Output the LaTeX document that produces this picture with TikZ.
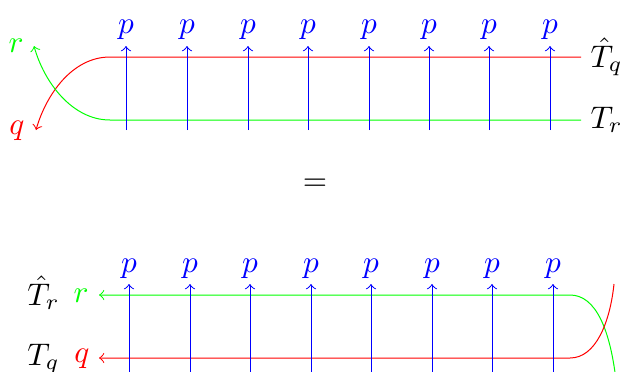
\documentclass[tikz,border=0pt]{standalone}
\begin{document}
\begin{tikzpicture}[x=0.32pt,y=-0.32pt,line width=0.32pt,
  lbl/.style={inner sep=0pt,anchor=base},
  lblw/.style={inner sep=0pt,anchor=base west},
  parr/.style={blue,->},
  rline/.style={red},
  gline/.style={green}]
\clip (0,0) rectangle (623,371);
% ---------- top ----------
\foreach \i/\x in {1/126,2/187,3/248,4/308,5/369,6/429,7/489,8/550}{
  \coordinate (tb\i) at (\x,130);
  \coordinate (tt\i) at (\x,46);
  \node[lbl,text=blue] (tp\i) at (\x,33) {$p$};
}
\coordinate (tr1) at (581,57);
\coordinate (tr2) at (110,57);
\coordinate (tr3) at (36,130);
\coordinate (tg1) at (581,120);
\coordinate (tg2) at (110,120);
\coordinate (tg3) at (34,46);
\draw[rline,->] (tr1) -- (tr2) .. controls (72,57) and (46,95) .. (tr3);
\draw[gline,->] (tg1) -- (tg2) .. controls (72,120) and (44,82) .. (tg3);
\foreach \i in {1,...,8}{\draw[parr] (tb\i) -- (tt\i);}
\node[lbl,text=green] (tr) at (16,52) {$r$};
\node[lbl,text=red] (tq) at (17,134) {$q$};
\node[lblw] (tTq) at (590,67) {$\hat{T}_q$};
\node[lblw] (tTr) at (590,128) {$T_r$};
% ---------- equals ----------
\node[inner sep=0pt] (eq) at (315,185) {$=$};
% ---------- bottom ----------
\foreach \i/\x in {1/129,2/190,3/250,4/311,5/371,6/432,7/492,8/553}{
  \coordinate (bb\i) at (\x,372);
  \coordinate (bt\i) at (\x,284);
  \node[lbl,text=blue] (bp\i) at (\x,272) {$p$};
}
\coordinate (bg1) at (570,295);
\coordinate (bg2) at (99,295);
\coordinate (bg3) at (616,380);
\coordinate (br1) at (570,358);
\coordinate (br2) at (99,358);
\coordinate (br3) at (614,284);
\draw[gline,->] (bg3) .. controls (610,330) and (596,295) .. (bg1) -- (bg2);
\draw[rline,->] (br3) .. controls (610,322) and (596,358) .. (br1) -- (br2);
\foreach \i in {1,...,8}{\draw[parr] (bb\i) -- (bt\i);}
\node[lbl,text=green] (br) at (81,302) {$r$};
\node[lbl,text=red] (bq) at (82,362) {$q$};
\node[lblw] (bTr) at (27,305) {$\hat{T}_r$};
\node[lblw] (bTq) at (27,365) {$T_q$};
\end{tikzpicture}
\end{document}
